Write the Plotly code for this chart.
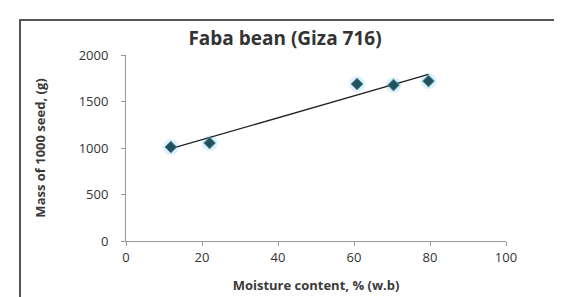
import numpy as np
import plotly.graph_objects as go

moisture = [11.8, 22.0, 60.8, 70.4, 79.6]
mass = [1010, 1054, 1688, 1677, 1720]
x_ticks = [0, 20, 40, 60, 80, 100]
y_ticks = [0, 500, 1000, 1500, 2000]

W, H = 562, 297
L, R, T, B = 118, 64, 47, 64
pw, ph = W - L - R, H - T - B

slope, intercept = np.polyfit(moisture, mass, 1)
fit_x = [min(moisture), max(moisture)]
fit_y = [slope * v + intercept for v in fit_x]

fig = go.Figure()
fig.add_trace(go.Scatter(x=moisture, y=mass, mode="markers",
                         marker=dict(symbol="circle", size=16, color="rgba(140,210,235,0.3)"),
                         hoverinfo="skip", showlegend=False))
fig.add_trace(go.Scatter(x=fit_x, y=fit_y, mode="lines",
                         line=dict(color="#222222", width=1.3), showlegend=False))
fig.add_trace(go.Scatter(x=moisture, y=mass, mode="markers",
                         marker=dict(symbol="diamond", size=9, color="#24505c",
                                     line=dict(color="#4a8fa3", width=1)),
                         showlegend=False))

font = "Open Sans, sans-serif"
fig.update_layout(
    width=W, height=H,
    margin=dict(l=L, r=R, t=T, b=B),
    paper_bgcolor="white", plot_bgcolor="white",
    font=dict(family=font, size=13, color="#3a3a3a"),
    title=dict(text="<b>Faba bean (Giza 716)</b>", x=(277 - L) / pw, xref="paper",
               xanchor="center", y=1 - 30 / H, yanchor="middle",
               font=dict(size=19, color="#333333", family=font)),
    xaxis=dict(range=[0, 100], tickvals=x_ticks, showgrid=False, zeroline=False,
               showline=True, linecolor="#999999", linewidth=1,
               ticks="outside", ticklen=4, tickcolor="#999999",
               tickfont=dict(size=13, color="#333333"),
               title=dict(text="<b>Moisture content, % (w.b)</b>", standoff=16,
                          font=dict(size=13, color="#3a3a3a"))),
    yaxis=dict(range=[0, 2000], tickvals=y_ticks, showgrid=False, zeroline=False,
               showline=True, linecolor="#999999", linewidth=1,
               ticks="outside", ticklen=4, tickcolor="#999999",
               ticklabelstandoff=10,
               tickfont=dict(size=13, color="#333333"),
               title=dict(text="<b>Mass of 1000 seed, (g)</b>", standoff=30,
                          font=dict(size=13, color="#3a3a3a"))),
    shapes=[dict(type="rect", xref="paper", yref="paper",
                 x0=(12 - L) / pw, x1=(575 - L) / pw,
                 y0=(H - B - 305) / ph, y1=(H - B - 12) / ph,
                 line=dict(color="#555555", width=2))],
)

fig.write_html("out.html")
